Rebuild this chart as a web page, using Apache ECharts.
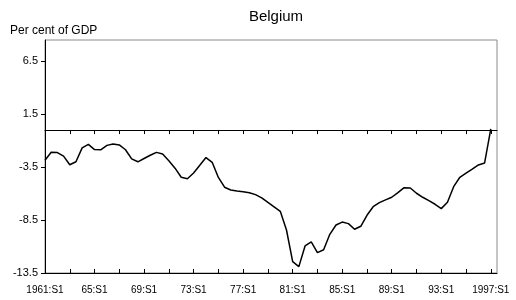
<!DOCTYPE html>
<html>
<head>
<meta charset="utf-8">
<script src="https://cdn.jsdelivr.net/npm/echarts@6/dist/echarts.min.js"></script>
<style>
  html, body { margin: 0; padding: 0; background: #fff; }
  #main { width: 516px; height: 300px; }
</style>
</head>
<body>
<div id="main"></div>
<script>
    // half-year periods, 1961:S1 .. 1997:S2
    var periods = [];
    for (var y = 1961; y <= 1997; y++) {
        for (var s = 1; s <= 2; s++) {
            var yy = (y == 1961 || y == 1997) ? String(y) : String(y).slice(2);
            periods.push(yy + ':S' + s);
        }
    }
    // balance, per cent of GDP (last half-year not available)
    var balance = [
        -2.85, -2.10, -2.13, -2.47, -3.28, -3.00, -1.69, -1.36, -1.85, -1.87,
        -1.45, -1.32, -1.41, -1.86, -2.73, -3.00, -2.69, -2.38, -2.11, -2.26,
        -2.90, -3.60, -4.46, -4.60, -4.06, -3.33, -2.60, -3.05, -4.48, -5.40,
        -5.66, -5.75, -5.83, -5.92, -6.10, -6.40, -6.84, -7.26, -7.68, -9.44,
        -12.43, -12.90, -10.95, -10.57, -11.58, -11.30, -9.85, -8.97, -8.69, -8.84,
        -9.37, -9.09, -8.05, -7.24, -6.86, -6.60, -6.35, -5.91, -5.44, -5.47,
        -5.97, -6.35, -6.67, -7.01, -7.42, -6.82, -5.35, -4.46, -4.08, -3.70,
        -3.30, -3.11, 0.10, null
    ];
    var yTicks = [-13.5, -8.5, -3.5, 1.5, 6.5];

    var font = 'Liberation Sans, Arial, sans-serif';
    var myChart = echarts.init(document.getElementById('main'));

    var zeroAxis = function(inside) {
        return {
            type: 'category',
            data: periods,
            boundaryGap: false,
            position: 'bottom',
            axisLine: { show: true, onZero: true, lineStyle: { color: '#000', width: 1 } },
            axisTick: { show: true, inside: inside, length: 4, interval: 3, lineStyle: { color: '#000' } },
            axisLabel: { show: false },
            splitLine: { show: false }
        };
    };

    var option = {
        animation: false,
        title: {
            text: 'Belgium',
            left: 271,
            textAlign: 'center',
            top: 4,
            textStyle: { fontFamily: font, fontSize: 15, fontWeight: 'normal', color: '#000' }
        },
        grid: {
            left: 45, right: 19, top: 40, bottom: 27,
            show: true, borderColor: '#8a8a8a', borderWidth: 1, backgroundColor: 'transparent'
        },
        xAxis: [
            {
                type: 'category',
                data: periods,
                boundaryGap: false,
                position: 'bottom',
                axisLine: { show: false, onZero: false },
                axisTick: { show: false },
                axisLabel: {
                    interval: 7, margin: 12, color: '#000',
                    fontFamily: font, fontSize: 10
                },
                splitLine: { show: false }
            },
            zeroAxis(false),
            zeroAxis(true)
        ],
        yAxis: {
            type: 'value',
            min: -13.5,
            max: 8.5,
            name: 'Per cent of GDP',
            nameLocation: 'end',
            nameGap: 3,
            nameTextStyle: { fontFamily: font, fontSize: 12, color: '#000', align: 'left', padding: [0, 0, 0, -35] },
            axisLine: { show: true, onZero: false, lineStyle: { color: '#000' } },
            axisTick: { show: true, length: 4, customValues: yTicks, lineStyle: { color: '#000' } },
            axisLabel: { customValues: yTicks, margin: 7, color: '#000', fontFamily: font, fontSize: 11 },
            splitLine: { show: false }
        },
        series: [
            {
                type: 'line',
                data: balance,
                xAxisIndex: 0,
                showSymbol: false,
                symbol: 'none',
                lineStyle: { color: '#000', width: 1.5 }
            }
        ]
    };

    myChart.setOption(option);
</script>
</body>
</html>
